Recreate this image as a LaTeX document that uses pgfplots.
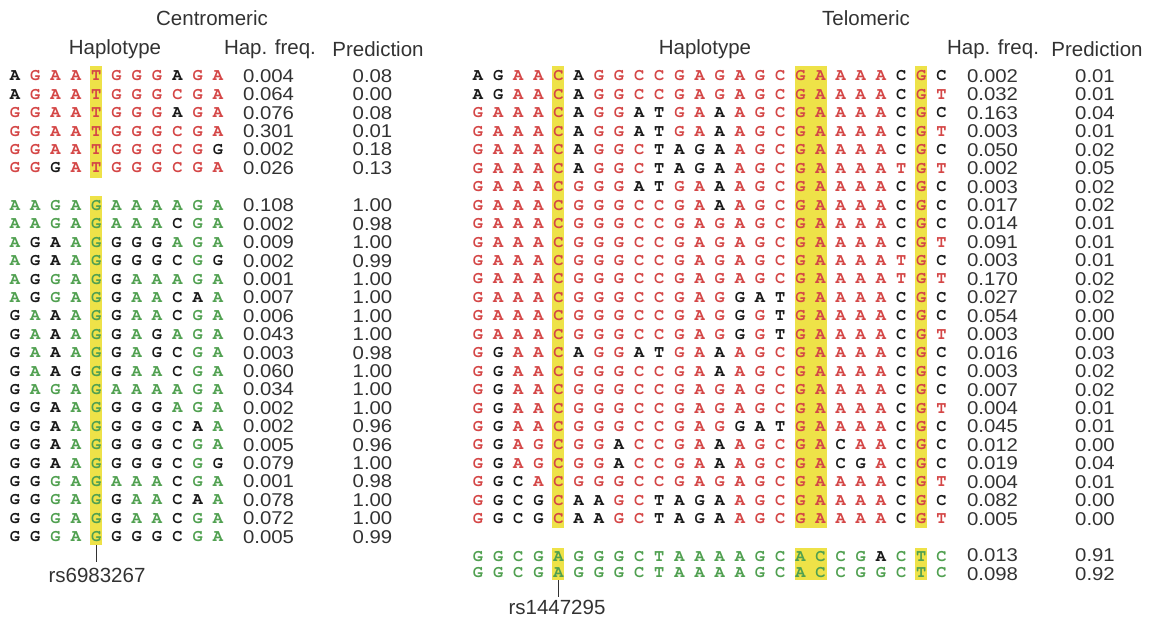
\documentclass[border=0pt]{standalone}
\usepackage{pgfplots}
\usepackage{pgfplotstable}
\pgfplotsset{compat=1.18}
\usepackage{fontspec}
\setmainfont{Liberation Sans}
\IfFontExistsTF{TeX Gyre Cursor}
  {\newfontfamily\hapfam{TeX Gyre Cursor}}
  {\newfontfamily\hapfam{Liberation Mono}}
\newfontfamily\numfam[FakeStretch=1.1]{Liberation Sans}
\newfontfamily\headfam{Liberation Sans}
\definecolor{hapred}{RGB}{212,70,70}
\definecolor{hapgreen}{RGB}{80,160,80}
\definecolor{hapblack}{RGB}{25,25,25}
\definecolor{hl}{RGB}{238,226,72}
\definecolor{numgray}{RGB}{50,50,50}
\newcommand\hapfont{\fontsize{17}{17}\selectfont\hapfam\bfseries}
\newcommand\numfont{\fontsize{18.5}{18.5}\selectfont\numfam}
\newcommand\headfont{\fontsize{20.5}{20.5}\selectfont\headfam}
% letter parser: lowercase = black allele, uppercase = coloured allele
\def\happarse#1{\ifx#1\relax\else\hapchar#1\expandafter\happarse\fi}
\def\hapchar#1{\ifnum`#1>96\relax\uppercase{\def\hapc{#1}}\makebox[\hapw]{\color{hapblack}\hapc}\else\makebox[\hapw]{#1}\fi}
\newcommand\haprow[2]{\def\hapw{#1}\edef\haptmp{#2}\expandafter\happarse\haptmp\relax}

% Centromeric, risk group (red)
\pgfplotstableread{
y seq f p
76 aGAATGGGaGA 0.004 0.08
94.4 aGAATGGGCGA 0.064 0.00
112.8 GGAATGGGaGA 0.076 0.08
131.2 GGAATGGGCGA 0.301 0.01
149.6 GGAATGGGCGg 0.002 0.18
168 GGgATGGGCGA 0.026 0.13
}\cenred
% Centromeric, green group
\pgfplotstableread{
y seq f p
205.5 AAGAGAAAAGA 0.108 1.00
223.9 AAGAGAAAcGA 0.002 0.98
242.3 AgaAGgggAGA 0.009 1.00
260.7 AgaAGgggcGg 0.002 0.99
279.1 AgGAGgAAAGA 0.001 1.00
297.5 AgGAGgAAcaA 0.007 1.00
315.9 gAaAGgAAcGA 0.006 1.00
334.3 gAaAGgAgAGA 0.043 1.00
352.7 gAaAGgAgcGA 0.003 0.98
371.1 gAagGgAAcGA 0.060 1.00
389.5 gAGAGAAAAGA 0.034 1.00
407.9 ggaAGgggAGA 0.002 1.00
426.3 ggaAGgggcaA 0.002 0.96
444.7 ggaAGgggcGA 0.005 0.96
463.1 ggaAGgggcGg 0.079 1.00
481.5 ggGAGAAAcGA 0.001 0.98
499.9 ggGAGgAAcaA 0.078 1.00
518.3 ggGAGgAAcGA 0.072 1.00
536.7 ggGAGgggcGA 0.005 0.99
}\cengreen
% Telomeric, red group
\pgfplotstableread{
y seq f p
76 agAACaGGCCGAGAGCGAAAAcGc 0.002 0.01
94.45 agAACaGGCCGAGAGCGAAAAcGT 0.032 0.01
112.9 GAAACaGGatGAaAGCGAAAAcGc 0.163 0.04
131.35 GAAACaGGatGAaAGCGAAAAcGT 0.003 0.01
149.8 GAAACaGGCtagaAGCGAAAAcGc 0.050 0.02
168.25 GAAACaGGCtagaAGCGAAAATGT 0.002 0.05
186.7 GAAACGGGatGAaAGCGAAAAcGc 0.003 0.02
205.15 GAAACGGGCCGAaAGCGAAAAcGc 0.017 0.02
223.6 GAAACGGGCCGAGAGCGAAAAcGc 0.014 0.01
242.05 GAAACGGGCCGAGAGCGAAAAcGT 0.091 0.01
260.5 GAAACGGGCCGAGAGCGAAAATGc 0.003 0.01
278.95 GAAACGGGCCGAGAGCGAAAATGT 0.170 0.02
297.4 GAAACGGGCCGAGgatGAAAAcGc 0.027 0.02
315.85 GAAACGGGCCGAGgGtGAAAAcGc 0.054 0.00
334.3 GAAACGGGCCGAGgGtGAAAAcGT 0.003 0.00
352.75 GgAACaGGatGAaAGCGAAAAcGc 0.016 0.03
371.2 GgAACGGGCCGAaAGCGAAAAcGc 0.003 0.02
389.65 GgAACGGGCCGAGAGCGAAAAcGc 0.007 0.02
408.1 GgAACGGGCCGAGAGCGAAAAcGT 0.004 0.01
426.55 GgAACGGGCCGAGgatGAAAAcGc 0.045 0.01
445 GgAGCGGaCCGAaAGCGAcAAcGc 0.012 0.00
463.45 GgAGCGGaCCGAaAGCGAcgAcGc 0.019 0.04
481.9 GgcACGGGCCGAGAGCGAAAAcGT 0.004 0.01
500.35 GgcgCaaGCtagaAGCGAAAAcGc 0.082 0.00
518.8 GgcgCaaGCtagaAGCGAAAAcGT 0.005 0.00
}\telred
% Telomeric, green group (y: letter rows, yn: number rows)
\pgfplotstableread{
y yn seq f p
557 555.5 GGCGAGGGCTAAAAGCACCGaCTC 0.013 0.91
572.5 574 GGCGAGGGCTAAAAGCACCGGCTC 0.098 0.92
}\telgreen

\pgfplotsset{
  txt/.style={only marks, mark options={draw=none,fill=none}, point meta=explicit symbolic},
  seqrow/.style 2 args={txt, nodes near coords={\haprow{#1}{\pgfplotspointmeta}},
    every node near coord/.append style={anchor=west, font=\hapfont, text=#2}},
  numcol/.style={txt, nodes near coords={\pgfplotspointmeta},
    every node near coord/.append style={anchor=center, font=\numfont, text=numgray}},
  hlbar/.style={fill=hl, draw=none, mark=none},
}

\begin{document}
\begin{tikzpicture}
\begin{axis}[
  x=1pt, y=1pt, y dir=reverse,
  xmin=0, xmax=1149, ymin=0, ymax=622,
  hide axis, clip=false,
  every node near coord/.append style={inner sep=0pt, outer sep=0pt},
]
% canvas
\addplot[draw=none, mark=none] coordinates {(0,0) (1149,622)};
% highlighted SNP columns
\addplot[hlbar] coordinates {(90.2,66) (102.2,66) (102.2,178) (90.2,178)};
\addplot[hlbar] coordinates {(90.2,196) (102.2,196) (102.2,545) (90.2,545)};
\addplot[hlbar] coordinates {(552.4,66) (564.4,66) (564.4,528) (552.4,528)};
\addplot[hlbar] coordinates {(794.5,66) (826.5,66) (826.5,528) (794.5,528)};
\addplot[hlbar] coordinates {(915.3,66) (927.3,66) (927.3,528) (915.3,528)};
\addplot[hlbar] coordinates {(552.4,548) (564.4,548) (564.4,580) (552.4,580)};
\addplot[hlbar] coordinates {(794.5,548) (826.5,548) (826.5,580) (794.5,580)};
\addplot[hlbar] coordinates {(915.3,548) (927.3,548) (927.3,580) (915.3,580)};
% haplotype letters
\addplot[seqrow={20.3pt}{hapred}] table[x expr=4.85, y=y, meta=seq] {\cenred};
\addplot[seqrow={20.3pt}{hapgreen}] table[x expr=4.85, y=y, meta=seq] {\cengreen};
\addplot[seqrow={20.15pt}{hapred}] table[x expr=467.9, y=y, meta=seq] {\telred};
\addplot[seqrow={20.15pt}{hapgreen}] table[x expr=467.9, y=y, meta=seq] {\telgreen};
% frequencies and predictions
\addplot[numcol] table[x expr=268.5, y=y, meta=f] {\cenred};
\addplot[numcol] table[x expr=372.5, y=y, meta=p] {\cenred};
\addplot[numcol] table[x expr=268.5, y=y, meta=f] {\cengreen};
\addplot[numcol] table[x expr=372.5, y=y, meta=p] {\cengreen};
\addplot[numcol] table[x expr=992.5, y=y, meta=f] {\telred};
\addplot[numcol] table[x expr=1095, y=y, meta=p] {\telred};
\addplot[numcol] table[x expr=992.5, y=yn, meta=f] {\telgreen};
\addplot[numcol] table[x expr=1095, y=yn, meta=p] {\telgreen};
% SNP markers
\addplot[numgray, line width=0.9pt, mark=none] coordinates {(96.2,545) (96.2,562)};
\addplot[numgray, line width=0.9pt, mark=none] coordinates {(558.4,580) (558.4,597)};
% headers
\node[font=\headfont, text=numgray] at (axis cs:212,18) {Centromeric};
\node[font=\headfont, text=numgray] at (axis cs:866,18) {Telomeric};
\node[font=\headfont, text=numgray] at (axis cs:115,49) {Haplotype};
\node[font=\headfont, text=numgray] at (axis cs:270,49) {Hap. freq.};
\node[font=\headfont, text=numgray] at (axis cs:378,49) {Prediction};
\node[font=\headfont, text=numgray] at (axis cs:705,49) {Haplotype};
\node[font=\headfont, text=numgray] at (axis cs:993,49) {Hap. freq.};
\node[font=\headfont, text=numgray] at (axis cs:1097,49) {Prediction};
\node[font=\headfont, text=numgray] at (axis cs:97,575) {rs6983267};
\node[font=\headfont, text=numgray] at (axis cs:557,607) {rs1447295};
\end{axis}
\pgfresetboundingbox
\path (0,0) rectangle (1149pt,622pt);
\end{tikzpicture}
\end{document}
